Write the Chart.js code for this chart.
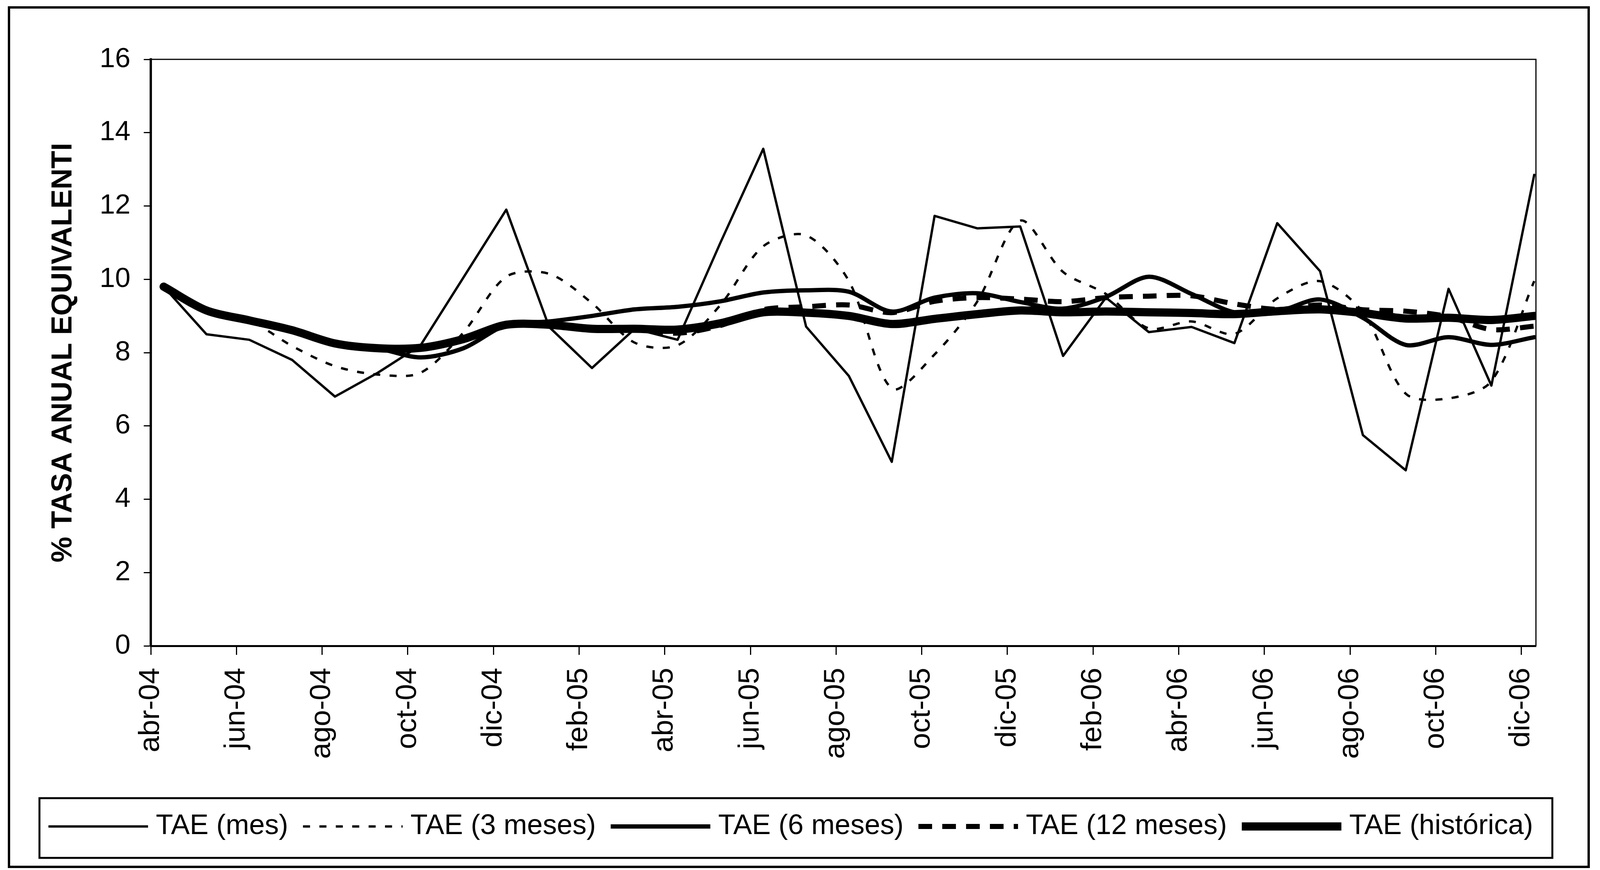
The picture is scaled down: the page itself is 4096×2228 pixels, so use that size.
<!DOCTYPE html>
<html lang="es">
<head>
    <meta charset="UTF-8">
    <title>TAE</title>
    <script src="https://cdn.jsdelivr.net/npm/chart.js"></script>
    <style>
        html, body { margin: 0; padding: 0; background: #fff; }
        #wrap { width: 4096px; height: 2228px; }
    </style>
</head>
<body>
    <div id="wrap"><canvas id="taeChart"></canvas></div>

    <script>
        // one point per month, abr-04 .. dic-06
        const months = ["abr-04", "may-04", "jun-04", "jul-04", "ago-04", "sep-04", "oct-04", "nov-04", "dic-04",
            "ene-05", "feb-05", "mar-05", "abr-05", "may-05", "jun-05", "jul-05", "ago-05", "sep-05", "oct-05", "nov-05", "dic-05",
            "ene-06", "feb-06", "mar-06", "abr-06", "may-06", "jun-06", "jul-06", "ago-06", "sep-06", "oct-06", "nov-06", "dic-06"];
        const tickLabels = ["abr-04", "jun-04", "ago-04", "oct-04", "dic-04", "feb-05", "abr-05", "jun-05", "ago-05",
            "oct-05", "dic-05", "feb-06", "abr-06", "jun-06", "ago-06", "oct-06", "dic-06"];
        const yTicks = [0, 2, 4, 6, 8, 10, 12, 14, 16];

        const taeMes = [9.8, 8.5, 8.35, 7.8, 6.8, 7.45, 8.2, 10.05, 11.9, 8.7, 7.58, 8.65, 8.35, 11.0, 13.56, 8.71, 7.36,
            5.02, 11.73, 11.39, 11.44, 7.91, 9.5, 8.56, 8.7, 8.26, 11.53, 10.22, 5.75, 4.79, 9.74, 7.1, 12.85];
        const tae3 = [9.8, 9.15, 8.88, 8.18, 7.63, 7.4, 7.45, 8.55, 10.07, 10.15, 9.35, 8.27, 8.2, 9.3, 10.9, 11.2, 9.95,
            7.02, 7.95, 9.4, 11.6, 10.2, 9.6, 8.66, 8.85, 8.51, 9.48, 9.95, 9.1, 6.88, 6.75, 7.22, 9.95];
        const tae6 = [9.8, 9.15, 8.87, 8.63, 8.27, 8.12, 7.87, 8.12, 8.75, 8.85, 9.0, 9.18, 9.25, 9.4, 9.64, 9.7, 9.66,
            9.12, 9.5, 9.62, 9.38, 9.2, 9.52, 10.07, 9.6, 9.1, 9.12, 9.45, 8.95, 8.21, 8.42, 8.21, 8.42];
        const tae12 = [9.8, 9.15, 8.88, 8.61, 8.25, 8.12, 8.13, 8.37, 8.76, 8.76, 8.65, 8.65, 8.53, 8.74, 9.17, 9.25, 9.3,
            9.09, 9.4, 9.5, 9.46, 9.39, 9.5, 9.54, 9.55, 9.33, 9.18, 9.3, 9.17, 9.13, 8.98, 8.63, 8.72];
        const taeHist = [9.8, 9.15, 8.88, 8.61, 8.25, 8.12, 8.13, 8.37, 8.76, 8.76, 8.65, 8.65, 8.63, 8.8, 9.1, 9.09, 9.0,
            8.78, 8.92, 9.05, 9.15, 9.1, 9.12, 9.1, 9.08, 9.05, 9.13, 9.18, 9.08, 8.93, 8.95, 8.89, 9.0];

        // values are taken some days into each month, the axis starts on the 1st
        const pointOffset = 0.3;
        const FONT = "'Liberation Sans', Arial, sans-serif";

        function series(values) {
            return values.map((v, i) => ({ x: i + pointOffset, y: v }));
        }

        function line(label, values, width, dash, tension) {
            return {
                label: label,
                data: series(values),
                borderColor: "#000",
                backgroundColor: "#000",
                borderWidth: width,
                borderDash: dash,
                borderCapStyle: dash.length ? "butt" : "round",
                borderJoinStyle: "round",
                tension: tension,
                pointRadius: 0,
                fill: false
            };
        }

        const frame = {
            id: "frame",
            beforeDraw(chart) {
                const ctx = chart.ctx;
                ctx.save();
                ctx.fillStyle = "#fff";
                ctx.fillRect(0, 0, chart.width, chart.height);
                ctx.restore();
            },
            afterDraw(chart) {
                const ctx = chart.ctx;
                const a = chart.chartArea;
                ctx.save();
                ctx.strokeStyle = "#000";

                // top and right side of the plot box
                ctx.lineWidth = 3;
                ctx.beginPath();
                ctx.moveTo(a.left, a.top);
                ctx.lineTo(a.right, a.top);
                ctx.lineTo(a.right, a.bottom);
                ctx.stroke();

                // outer border
                ctx.lineWidth = 6;
                ctx.strokeRect(23, 19, 4044, 2201);

                // legend
                const box = { x: 101, y: 2044, w: 3873, h: 153 };
                ctx.lineWidth = 5;
                ctx.strokeRect(box.x, box.y, box.w, box.h);
                ctx.font = "72px " + FONT;
                ctx.textBaseline = "middle";
                ctx.fillStyle = "#000";
                const y = box.y + box.h / 2 - 4;
                let x = box.x + 23;
                chart.data.datasets.forEach(ds => {
                    ctx.beginPath();
                    ctx.lineWidth = ds.borderWidth;
                    ctx.setLineDash(ds.borderDash);
                    ctx.lineCap = "butt";
                    ctx.moveTo(x, y);
                    ctx.lineTo(x + 255, y);
                    ctx.stroke();
                    ctx.setLineDash([]);
                    x += 255 + 20;
                    ctx.fillText(ds.label, x, y);
                    x += ctx.measureText(ds.label).width + 38;
                });
                ctx.restore();
            }
        };

        new Chart(document.getElementById("taeChart"), {
            type: "line",
            data: {
                datasets: [
                    line("TAE (mes)", taeMes, 6, [], 0),
                    line("TAE (3 meses)", tae3, 6, [18, 24], 0.3),
                    line("TAE (6 meses)", tae6, 11, [], 0.3),
                    line("TAE (12 meses)", tae12, 13, [35, 26], 0.3),
                    line("TAE (histórica)", taeHist, 21, [], 0.3)
                ]
            },
            options: {
                responsive: true,
                maintainAspectRatio: false,
                animation: false,
                layout: { padding: { left: 0, top: 152, right: 164, bottom: 0 } },
                plugins: {
                    legend: { display: false },
                    tooltip: { enabled: false }
                },
                scales: {
                    x: {
                        type: "linear",
                        min: 0,
                        max: 32.34,
                        afterBuildTicks: s => { s.ticks = tickLabels.map(l => ({ value: months.indexOf(l) })); },
                        afterFit: s => { s.height = 574; },
                        ticks: {
                            autoSkip: false,
                            minRotation: 90,
                            maxRotation: 90,
                            padding: 33,
                            color: "#000",
                            font: { family: FONT, size: 75 },
                            callback: v => months[v]
                        },
                        grid: { drawOnChartArea: false, tickLength: 23, tickWidth: 3, tickColor: "#000" },
                        border: { display: true, color: "#000", width: 5 }
                    },
                    y: {
                        min: 0,
                        max: 16,
                        afterBuildTicks: s => { s.ticks = yTicks.map(v => ({ value: v })); },
                        afterFit: s => { s.width = 386; },
                        ticks: {
                            padding: 34,
                            color: "#000",
                            font: { family: FONT, size: 71 },
                            callback: v => String(v)
                        },
                        grid: { drawOnChartArea: false, tickLength: 18, tickWidth: 3, tickColor: "#000" },
                        border: { display: true, color: "#000", width: 6 },
                        title: {
                            display: true,
                            text: "% TASA ANUAL EQUIVALENTI",
                            color: "#000",
                            font: { family: FONT, size: 74, weight: "bold" },
                            padding: { top: 118, bottom: 0 }
                        }
                    }
                }
            },
            plugins: [frame]
        });
    </script>
</body>
</html>
